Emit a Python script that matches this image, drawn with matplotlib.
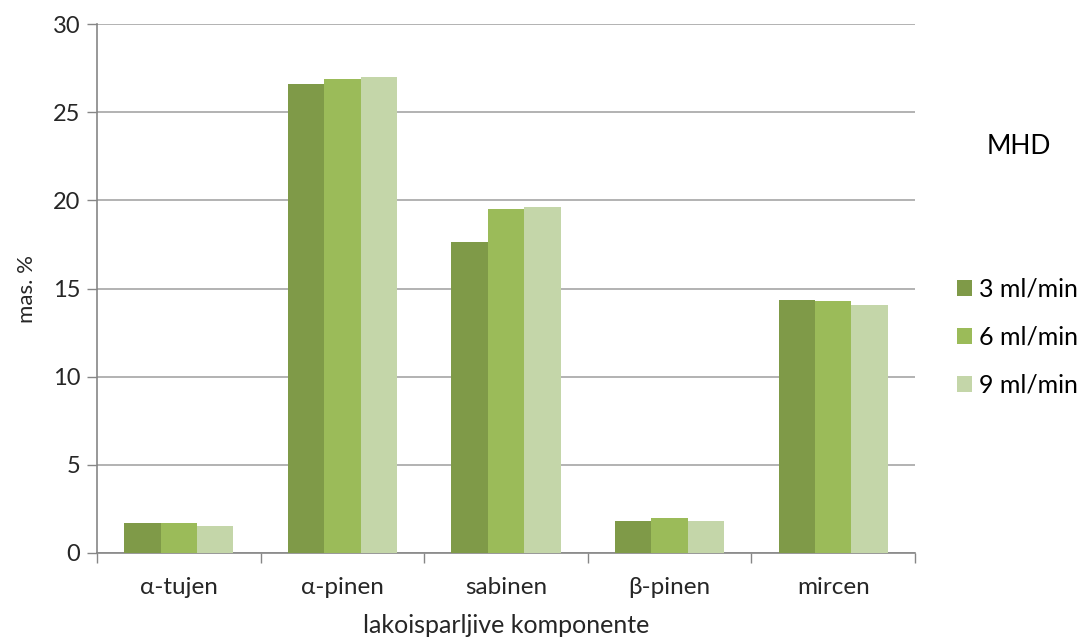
import matplotlib.pyplot as plt
import numpy as np

plt.rcParams['font.family'] = ['Lato', 'DejaVu Sans']

# mas. % per component for each flow rate
categories = ['α-tujen', 'α-pinen', 'sabinen', 'β-pinen', 'mircen']
series_labels = ['3 ml/min', '6 ml/min', '9 ml/min']
flow_3 = [1.68, 26.58, 17.62, 1.83, 14.35]
flow_6 = [1.68, 26.86, 19.51, 1.98, 14.28]
flow_9 = [1.55, 27.01, 19.61, 1.83, 14.07]
colors = ['#7F9A48', '#9BBB59', '#C4D6A9']

fig = plt.figure(figsize=(10.8, 6.39), dpi=100)
ax = fig.add_axes([0.0898, 0.1346, 0.7574, 0.8278])

x = np.arange(len(categories))
width = 2 / 9
for i, (vals, lab) in enumerate(zip([flow_3, flow_6, flow_9], series_labels)):
    ax.bar(x + (i - 1) * width, vals, width=width, color=colors[i], label=lab, zorder=3)

ax.set_xlim(-0.5, len(categories) - 0.5)
ax.set_ylim(0, 30)
ax.set_yticks(range(0, 31, 5))
ax.yaxis.grid(True, color='#A6A6A6', linewidth=1.2, zorder=0)

# category labels centred, tick marks on the boundaries
ax.set_xticks(x)
ax.set_xticklabels(categories, fontsize=17.5, color='#262626')
ax.set_xticks(np.arange(-0.5, len(categories)), minor=True)
ax.tick_params(axis='x', which='major', length=0, pad=17)
ax.tick_params(axis='x', which='minor', length=7, width=1, color='#868686', direction='out')
ax.tick_params(axis='y', length=7, width=1, color='#868686', labelsize=17, labelcolor='#262626', pad=5)

for side in ['top', 'right']:
    ax.spines[side].set_visible(False)
for side in ['left', 'bottom']:
    ax.spines[side].set_color('#868686')
    ax.spines[side].set_linewidth(1.2)

ax.set_ylabel('mas. %', fontsize=16, color='#262626', labelpad=11)
ax.set_xlabel('lakoisparljive komponente', fontsize=18, color='#262626', labelpad=12)

fig.text(0.943, 0.77, 'MHD', fontsize=19, ha='center', va='center', color='#000000')
ax.legend(loc='center left', bbox_to_anchor=(0.886, 0.4726), bbox_transform=fig.transFigure,
          frameon=False, fontsize=18, handlelength=0.6, handleheight=0.6,
          handletextpad=0.3, labelspacing=1.0, borderpad=0, borderaxespad=0)

fig.savefig('out.png', dpi=100)
